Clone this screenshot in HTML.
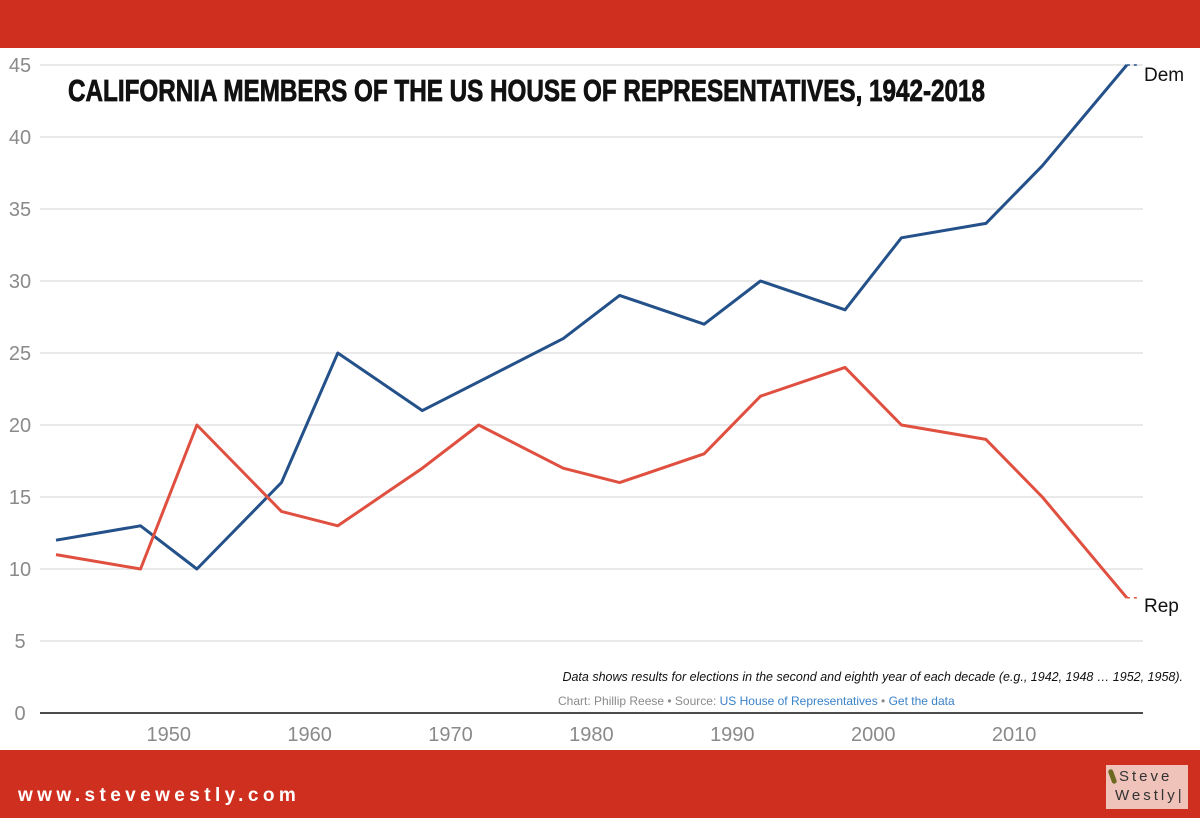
<!DOCTYPE html>
<html><head><meta charset="utf-8"><style>
html,body{margin:0;padding:0}
body{width:1200px;height:818px;position:relative;background:#fff;font-family:"Liberation Sans",sans-serif;overflow:hidden}
.band{position:absolute;left:0;width:1200px;background:#cf2f1f}
</style></head><body>
<div class="band" style="top:0;height:48px"></div>
<svg id="chart" width="1200" height="818" style="position:absolute;left:0;top:0"></svg>
<div class="band" style="top:750px;height:68px">
  <div style="position:absolute;left:18px;top:35px;color:#fff;font-weight:bold;font-size:19px;letter-spacing:4.4px">www.stevewestly.com</div>
  <div style="position:absolute;left:1106px;top:15px;width:82px;height:44px;background:#efc2ba;color:#333;font-family:'Liberation Sans',sans-serif;font-size:15px;line-height:18px;letter-spacing:3px">
    <div style="position:absolute;left:4px;top:4px;width:5px;height:15px;background:#6b6a20;border-radius:3px;transform:rotate(-20deg)"></div>
    <div style="position:absolute;left:13px;top:3px">Steve</div>
    <div style="position:absolute;left:9px;top:22px">Westly|</div>
  </div>
</div>
<script>
const years=[1942,1948,1952,1958,1962,1968,1972,1978,1982,1988,1992,1998,2002,2008,2012,2018];
const dem=[12,13,10,16,25,21,23,26,29,27,30,28,33,34,38,45];
const rep=[11,10,20,14,13,17,20,17,16,18,22,24,20,19,15,8];
const yTicks=[0,5,10,15,20,25,30,35,40,45];
const xTicks=[1950,1960,1970,1980,1990,2000,2010];
const NS="http://www.w3.org/2000/svg";
const svg=document.getElementById('chart');
const x=v=>56+(v-1942)*14.09;
const y=v=>713-v*14.4;
function mk(t,a,p){const e=document.createElementNS(NS,t);for(const k in a)e.setAttribute(k,a[k]);(p||svg).appendChild(e);return e;}
yTicks.forEach(t=>{
  if(t>0){const g=mk('line',{x1:40,x2:1143,y1:y(t),y2:y(t),stroke:'#e2e2e2','stroke-width':1.5});
  
  }
  const l=mk('text',{x:20,y:y(t)+7,'text-anchor':'middle','font-size':20,fill:'#8a8a8a'});l.textContent=t;
  
  
});
xTicks.forEach(t=>{
  const l=mk('text',{x:x(t),y:741,'text-anchor':'middle','font-size':20,fill:'#8a8a8a'});l.textContent=t;
  
  
});
const ax=mk('line',{x1:40,x2:1143,y1:713,y2:713,stroke:'#111','stroke-width':1.5});


const t=mk('text',{x:68,y:101,'font-size':31,'font-weight':'bold',fill:'#111',stroke:'#111','stroke-width':0.8,'font-family':'"Liberation Sans Narrow","Liberation Sans",sans-serif',textLength:917,lengthAdjust:'spacingAndGlyphs'});
t.textContent='CALIFORNIA MEMBERS OF THE US HOUSE OF REPRESENTATIVES, 1942-2018';


function series(vals,col,name){
  const p=mk('polyline',{points:years.map((yr,i)=>x(yr)+','+y(vals[i])).join(' '),fill:'none',stroke:col,'stroke-width':3,'stroke-linejoin':'round'});
  
  
  const last=vals[vals.length-1],lx=x(years[years.length-1]);
  const d=mk('line',{x1:lx,x2:lx+12,y1:y(last),y2:y(last),stroke:col,'stroke-width':1.5,'stroke-dasharray':'3,4'});
  
  
}
series(dem,'#245189','dem');
series(rep,'#df5040','rep');
const dl=mk('text',{x:1144,y:y(dem[dem.length-1])+16,'font-size':19,fill:'#111'});dl.textContent='Dem';


const rl=mk('text',{x:1144,y:y(rep[rep.length-1])+14,'font-size':19,fill:'#111'});rl.textContent='Rep';


const n=mk('text',{x:1183,y:681,'text-anchor':'end','font-size':12.5,'font-style':'italic',fill:'#111'});
n.textContent='Data shows results for elections in the second and eighth year of each decade (e.g., 1942, 1948 … 1952, 1958).';


const s=mk('text',{x:558,y:705,'font-size':12,fill:'#8a8a8a'});


const a=mk('tspan',{},s);a.textContent='Chart: Phillip Reese • Source: ';
const b=mk('tspan',{fill:'#3a82c8'},s);b.textContent='US House of Representatives';


const c=mk('tspan',{},s);c.textContent=' • ';
const d2=mk('tspan',{fill:'#3a82c8'},s);d2.textContent='Get the data';


</script>
</body></html>
